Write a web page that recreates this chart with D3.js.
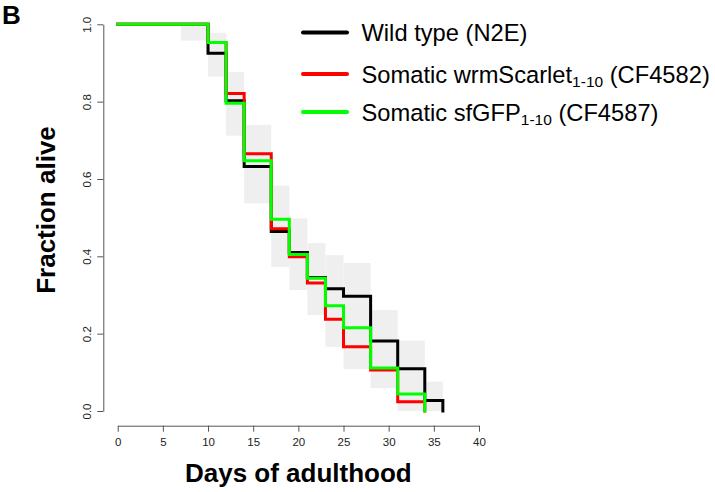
<!DOCTYPE html>
<html>
<head>
<meta charset="utf-8">
<script src="https://cdn.jsdelivr.net/npm/d3@7"></script>
<style>
  body { margin: 0; background: #fff; }
  svg { font-family: "Liberation Sans", Arial, Helvetica, sans-serif; }
  .axis path, .axis line { stroke: #555; }
  .axis text { fill: #222; font-size: 11.5px; }
</style>
</head>
<body>
<svg id="chart" width="715" height="492"></svg>
<script>
// Survival curves (Kaplan–Meier steps) with a grey confidence band.

const eventDays = [0, 10, 12, 14, 17, 19, 21, 23, 25, 28, 31, 34, 36];
const wildType = [1, 0.925, 0.802, 0.632, 0.464, 0.41, 0.345, 0.316, 0.297, 0.181, 0.109, 0.027, 0];
const scarletDays = [0, 10, 12, 14, 17, 19, 21, 23, 25, 28, 31, 34];
const scarlet = [1, 0.953, 0.821, 0.665, 0.471, 0.399, 0.331, 0.237, 0.166, 0.106, 0.024, 0];
const sfgfpDays = [0, 10, 12, 14, 17, 19, 21, 23, 25, 28, 31, 34];
const sfgfp = [1, 0.953, 0.796, 0.647, 0.496, 0.405, 0.343, 0.272, 0.215, 0.111, 0.044, 0];

// grey band boxes: [start day, end day] with upper / lower bounds
const bandStart = [7, 10, 12, 14, 17, 19, 21, 23, 25, 28, 31, 34];
const bandEnd = [10, 12, 14, 17, 19, 21, 23, 25, 28, 31, 34, 36];
const bandUpper = [1.0, 0.978, 0.877, 0.74, 0.583, 0.498, 0.434, 0.403, 0.383, 0.261, 0.182, 0.076];
const bandLower = [0.958, 0.865, 0.712, 0.537, 0.373, 0.313, 0.248, 0.166, 0.108, 0.059, 0, 0];

const xTicks = [0, 5, 10, 15, 20, 25, 30, 35, 40];
const yTicks = [0, 0.2, 0.4, 0.6, 0.8, 1.0];

const legendLabels = [
  { main: "Wild type (N2E)", sub: null, tail: null, color: "#000000" },
  { main: "Somatic wrmScarlet", sub: "1-10", tail: " (CF4582)", color: "#ff0000" },
  { main: "Somatic sfGFP", sub: "1-10", tail: " (CF4587)", color: "#00ff00" },
];

const svg = d3.select("#chart");

const x = d3.scaleLinear().domain([0, 40]).range([117.7, 479]);
const y = d3.scaleLinear().domain([0, 1]).range([411, 24.3]);

// confidence band
const bands = bandStart.map((s, i) => ({
  s, e: bandEnd[i], hi: bandUpper[i], lo: bandLower[i],
}));

svg.append("g")
  .selectAll("rect")
  .data(bands)
  .join("rect")
  .attr("x", (d) => x(d.s))
  .attr("y", (d) => y(d.hi))
  .attr("width", (d) => x(d.e) - x(d.s))
  .attr("height", (d) => y(d.lo) - y(d.hi))
  .attr("fill", "#efefef");

// curves
const line = d3.line()
  .x((d) => x(d[0]))
  .y((d) => y(d[1]))
  .curve(d3.curveStepAfter);

const curves = [
  { days: eventDays, vals: wildType, color: "#000000" },
  { days: scarletDays, vals: scarlet, color: "#ff0000" },
  { days: sfgfpDays, vals: sfgfp, color: "#00ff00" },
];

svg.append("g")
  .selectAll("path")
  .data(curves)
  .join("path")
  .attr("d", (c) => line(c.days.map((d, i) => [d, c.vals[i]])))
  .attr("fill", "none")
  .attr("stroke", (c) => c.color)
  .attr("stroke-width", 3)
  .attr("stroke-linejoin", "miter")
  .attr("stroke-linecap", "square");

// axes
const xAxis = svg.append("g")
  .attr("class", "axis x-axis")
  .attr("transform", "translate(0,425.7)")
  .call(d3.axisBottom(x).tickValues(xTicks).tickSize(6).tickSizeOuter(0).tickFormat(d3.format("d")));
xAxis.selectAll("text").attr("y", 12);

const yAxis = svg.append("g")
  .attr("class", "axis y-axis")
  .attr("transform", "translate(103.3,0)")
  .call(d3.axisLeft(y).tickValues(yTicks).tickSize(6).tickSizeOuter(0).tickFormat(d3.format(".1f")));
yAxis.selectAll("text")
  .attr("transform", "rotate(-90)")
  .attr("text-anchor", "middle")
  .attr("x", 0)
  .attr("y", -12)
  .attr("dy", 0);

// axis titles
svg.append("text")
  .attr("x", (x(0) + x(40)) / 2)
  .attr("y", 481.5)
  .attr("text-anchor", "middle")
  .attr("font-size", 26)
  .attr("font-weight", "bold")
  .text("Days of adulthood");

svg.append("text")
  .attr("transform", "translate(55,210) rotate(-90)")
  .attr("text-anchor", "middle")
  .attr("font-size", 26)
  .attr("font-weight", "bold")
  .text("Fraction alive");

// panel letter
svg.append("text")
  .attr("x", 2)
  .attr("y", 24)
  .attr("font-size", 26)
  .attr("font-weight", "bold")
  .text("B");

// legend
const legend = svg.append("g").attr("class", "legend");
const rowY = [32.5, 74, 112];

legendLabels.forEach((item, i) => {
  const row = legend.append("g").attr("transform", `translate(0,${rowY[i]})`);
  row.append("line")
    .attr("x1", 303).attr("x2", 347)
    .attr("stroke", item.color)
    .attr("stroke-width", 4)
    .attr("stroke-linecap", "round");
  const t = row.append("text")
    .attr("x", 361.5)
    .attr("y", 8.5)
    .attr("font-size", 23.7)
    .attr("fill", "#000");
  t.append("tspan").text(item.main);
  if (item.sub) {
    t.append("tspan").attr("font-size", 15.5).attr("dy", 4).text(item.sub);
    t.append("tspan").attr("dy", -4).text(item.tail);
  }
});
</script>
</body>
</html>
